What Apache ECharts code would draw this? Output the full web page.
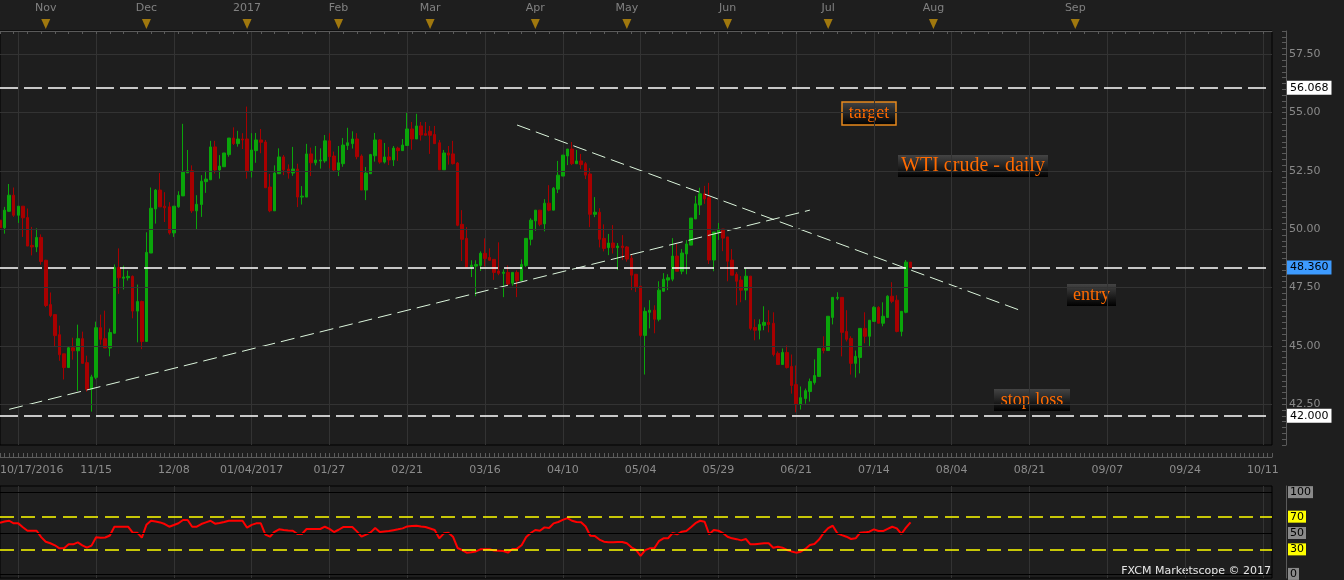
<!DOCTYPE html>
<html><head><meta charset="utf-8">
<script src="https://cdn.jsdelivr.net/npm/echarts@6/dist/echarts.min.js"></script>
<style>html,body{margin:0;padding:0;background:#1e1e1e;}#c{width:1344px;height:580px;}</style>
</head><body><div id="c"></div><script>
// ---- categories / ticks ----
const firstBar = '2016-10-17', lastBar = '2017-07-26', axisEnd = '2017-10-13';
const holidays = ['2016-12-26', '2017-01-02', '2017-04-14'];
const tickLabels = ['11/15','12/08','01/04/2017','01/27','02/21','03/16','04/10','05/04','05/29','06/21','07/14','08/04','08/21','09/07','09/24','10/11'];
const firstLabel = '10/17/2016';
const monthNames = ['Nov','Dec','2017','Feb','Mar','Apr','May','Jun','Jul','Aug','Sep'];
const monthMarkDates = ['2016-10-31','2016-11-30','2017-01-03','2017-01-31','2017-02-28','2017-03-31','2017-05-01','2017-05-31','2017-06-30','2017-07-31','2017-08-31'];
const priceTicks = [42.5, 45, 47.5, 50, 52.5, 55, 57.5];

// ---- series values (WTI daily OHLC) ----
const open = [
50.39,50.06,50.77,51.46,50.60,50.99,50.50,49.31,49.24,49.65,
48.67,46.77,46.34,45.48,44.66,44.07,44.92,44.79,45.31,44.28,
43.14,43.65,45.78,45.31,44.91,45.54,48.36,47.90,47.92,47.98,
46.49,46.90,45.19,48.98,50.87,51.68,50.99,50.96,49.84,50.96,
51.43,52.42,52.51,50.79,51.06,52.04,52.12,53.53,52.54,52.68,
53.20,53.91,53.67,53.87,53.87,52.51,53.37,53.83,53.74,51.81,
50.79,52.38,53.10,52.58,52.41,52.58,51.38,51.38,53.23,52.85,
52.93,52.93,53.79,53.14,52.54,52.81,53.59,53.67,53.87,53.14,
51.68,52.38,53.15,53.83,52.88,53.10,52.97,53.48,53.37,53.59,
54.30,53.87,54.43,54.10,54.20,54.06,53.71,52.55,53.27,53.23,
52.84,50.21,49.61,48.38,48.42,48.45,48.97,48.79,48.71,48.21,
48.11,48.15,47.69,48.15,47.80,48.45,49.57,50.36,50.82,50.23,
51.12,50.82,51.72,52.28,53.14,53.44,52.81,52.93,52.81,52.37,
50.64,50.73,49.61,49.21,49.41,49.21,49.28,49.24,48.76,48.07,
47.56,45.45,46.44,46.53,46.14,47.34,47.82,47.86,48.85,48.20,
48.94,49.32,50.44,51.04,51.52,51.35,48.68,49.87,50.01,49.67,
48.68,48.07,47.82,47.39,47.99,45.79,45.67,45.88,46.01,45.97,
44.68,44.20,44.72,44.12,43.34,42.48,42.74,43.04,43.43,43.69,
44.89,44.80,46.22,47.04,47.08,45.62,45.32,44.25,44.50,45.75,
45.41,46.05,46.65,45.97,46.22,47.13,46.96,45.62,46.44,48.59];
const close = [
50.06,50.82,51.46,50.60,50.99,50.49,49.28,49.24,49.65,48.62,
46.73,46.30,45.44,44.62,44.07,44.92,44.79,45.31,44.25,43.14,
43.67,45.78,45.28,44.91,45.57,48.36,47.92,47.95,47.98,46.49,
46.90,45.19,49.01,50.90,51.68,50.96,50.92,49.84,50.99,51.46,
52.45,52.51,50.79,51.07,52.06,52.15,53.53,52.54,52.71,53.27,
53.91,53.67,53.87,53.83,52.51,53.40,53.83,53.73,51.78,50.79,
52.41,53.10,52.55,52.41,52.58,51.38,51.42,53.23,52.85,52.97,
52.97,53.79,53.11,52.54,52.85,53.61,53.71,53.87,53.11,51.68,
52.41,53.20,53.83,52.88,53.10,52.97,53.48,53.37,53.61,54.30,
53.87,54.43,54.04,54.03,54.03,53.67,52.55,53.27,53.18,52.81,
50.17,49.57,48.38,48.46,48.49,48.97,48.75,48.67,48.15,48.11,
48.16,47.65,48.15,47.79,48.49,49.61,50.39,50.82,50.21,51.12,
50.82,51.76,52.32,53.18,53.44,52.81,52.93,52.77,52.32,50.64,
50.73,49.57,49.18,49.41,49.21,49.28,49.21,48.72,48.03,47.53,
45.45,46.48,46.53,46.14,47.39,47.86,47.92,48.85,48.20,48.98,
49.37,50.48,51.09,51.52,51.30,48.68,49.88,50.01,49.62,48.63,
48.03,47.77,47.39,47.99,45.75,45.67,45.92,46.01,45.92,44.63,
44.20,44.72,44.07,43.30,42.48,42.78,43.08,43.47,43.73,44.89,
44.80,46.27,47.08,47.08,45.58,45.28,44.25,44.55,45.75,45.41,
46.10,46.65,45.97,46.27,47.13,46.91,45.62,46.48,48.59,48.36];
const high = [
50.53,50.96,51.94,51.79,50.99,50.99,50.89,50.10,50.04,49.78,
48.69,47.29,46.34,45.87,44.66,44.96,45.35,45.91,45.61,44.58,
43.76,46.04,46.34,46.51,45.74,48.49,49.18,48.44,48.23,48.02,
47.63,46.94,49.87,51.79,51.72,52.41,51.59,51.16,50.99,51.63,
54.52,53.40,52.74,51.46,52.32,52.51,53.79,53.79,53.18,53.27,
53.91,54.37,54.22,54.12,55.26,54.12,54.13,54.30,53.83,52.37,
52.74,53.47,53.18,52.78,53.53,52.81,51.85,53.66,53.50,53.57,
53.47,54.04,54.12,53.33,53.57,53.91,54.35,54.20,54.12,53.21,
52.67,53.23,54.13,53.86,53.70,53.53,53.57,53.54,53.87,55.03,
54.60,54.95,54.60,54.60,54.43,54.43,53.83,53.40,53.57,53.79,
52.88,50.82,50.09,48.67,48.67,49.05,49.61,49.18,48.71,49.44,
48.28,48.45,48.15,48.24,48.71,49.61,50.47,50.82,50.82,51.29,
51.89,51.81,52.93,53.18,53.44,53.74,53.40,53.23,52.88,52.62,
51.38,50.90,50.21,49.80,50.18,49.41,49.75,49.28,48.89,48.07,
47.56,46.65,46.96,46.74,47.77,48.12,48.07,49.62,49.37,49.15,
49.54,50.48,51.43,51.78,51.86,51.99,49.88,50.27,50.01,49.67,
49.15,48.16,47.99,48.33,47.99,46.14,46.14,46.70,46.53,46.44,
44.76,44.89,45.02,44.63,44.16,43.26,43.17,43.60,44.42,44.89,
45.41,46.27,47.08,47.30,47.08,46.53,45.41,44.80,45.75,46.44,
46.10,46.70,46.70,46.87,47.17,47.73,47.17,46.48,48.68,48.59];
const low = [
49.88,49.81,50.75,50.53,50.27,49.67,49.28,48.88,49.02,48.48,
46.66,46.23,44.98,44.36,43.56,44.07,44.41,43.07,44.25,43.04,
42.18,43.57,45.05,44.91,44.55,45.54,47.23,47.42,47.80,46.18,
45.15,44.86,45.19,48.98,50.24,50.96,50.31,49.77,49.67,50.92,
51.43,52.42,50.70,50.01,50.53,51.56,52.12,52.39,52.17,52.68,
53.11,53.61,53.54,53.44,52.17,52.22,52.85,53.26,51.78,50.73,
50.79,52.38,52.32,52.17,52.29,50.95,51.06,51.38,52.28,52.74,
52.60,52.85,52.61,52.47,52.28,52.68,53.40,53.46,53.00,51.68,
51.25,52.37,52.90,52.81,52.82,52.75,52.71,52.93,53.37,53.59,
53.41,53.87,53.80,54.02,53.23,53.67,52.55,52.55,52.77,52.78,
50.13,48.64,48.38,47.95,47.13,48.21,48.41,48.64,47.83,48.03,
47.09,47.58,47.58,47.09,47.80,48.38,49.31,49.93,50.13,49.91,
50.77,50.82,51.55,52.28,52.75,52.75,52.81,52.58,52.15,50.09,
50.52,49.22,49.05,48.89,48.96,48.25,48.68,48.61,47.39,47.31,
45.38,43.77,45.75,45.54,46.05,47.34,47.39,47.77,48.20,48.07,
48.07,49.32,50.44,50.61,51.09,48.51,48.20,49.54,49.06,47.77,
48.03,46.74,46.87,46.96,45.67,45.24,45.28,45.67,45.58,44.55,
44.20,44.20,44.03,42.95,42.15,42.27,42.52,42.61,43.34,43.69,
44.68,44.80,45.92,46.96,44.55,45.19,43.77,43.64,43.82,45.11,
44.98,46.05,45.97,45.84,46.22,46.83,45.58,45.41,46.40,48.36];
const rsi = [
62.6,64,65,61.8,61.8,57,52.8,52.8,52.8,45,
39.4,37.5,35,31.3,31.3,36.2,36.2,38.6,35,32.1,
34.6,44.7,44.3,44.5,47,57.7,57.7,57.7,57.7,50.4,
50.4,44.3,60,65,64,63,61,57.7,59.8,62,
65.9,65.9,57.7,57.7,61,63,65,61.4,62.2,63.5,
65,65,65,65,56.5,60,61.8,61.8,48,45.5,
51.5,54.5,53.7,53.2,52.8,48.8,48.8,54.9,54.9,54.9,
54.9,57.7,55,51.2,54,57.3,57.3,57.3,52,45.5,
48,50.8,56.1,51.2,52,52.4,53.5,54.5,55.7,58.1,
58.5,58.9,58,57.3,55.5,53.7,43.5,49.6,50.4,45.5,
31.7,29,26,26.5,27.5,30.1,30.1,30.1,28.5,28.3,
28,26,30.5,30.9,35,45,50,53.7,52.8,56.9,
56.1,61.8,63.5,66,68.3,65,63.4,63.2,58,46.7,
46.3,42,39.4,38.6,38.8,39,39,37.4,32.5,29.3,
22,29,31.3,31.3,40,43.5,43.5,50,48.4,51.6,
52.4,57,62,65,63.8,48.4,53.7,52.8,50,45.5,
43.5,42.5,41,42.7,36.2,36.2,37,37.4,37.4,32,
33.3,32.1,29.3,27.5,26,27.2,30.5,35.4,36.5,42,
50,56,58.9,49.6,47.5,45.5,42.7,43.5,50.4,50.8,
51.6,54.5,52.4,52.4,55,57.7,55.7,48.8,56.5,63];
// ---- analyst levels & trend lines ----
const levels = [56.068, 48.36, 42.0];
const supportLine = [['2016-10-19', 42.28], ['2017-06-26', 50.82]];
const resistanceLine = [['2017-03-27', 54.47], ['2017-08-19', 46.52]];
const rsiLevels = [100, 70, 50, 30, 0];

// ---- build categories ----
function buildDates() {
  const out = [];
  let t = Date.parse(firstBar + 'T00:00:00Z');
  const tl = Date.parse(lastBar + 'T00:00:00Z'), te = Date.parse(axisEnd + 'T00:00:00Z');
  while (t <= te) {
    const d = new Date(t), iso = d.toISOString().slice(0, 10), dow = d.getUTCDay();
    if (t > tl || (dow !== 0 && dow !== 6 && holidays.indexOf(iso) < 0)) out.push(iso);
    t += 86400000;
  }
  return out;
}
const dates = buildDates();
const mmdd = iso => iso.slice(5, 7) + '/' + iso.slice(8, 10);
const labelOf = {};
const tickIdx = [];
dates.forEach((iso, i) => {
  const lab = tickLabels.find(t => t.slice(0, 5) === mmdd(iso));
  if (lab) { labelOf[iso] = lab; tickIdx.push(i); }
});
const step = tickIdx[1] - tickIdx[0];
const gridSet = new Set(tickIdx.concat([tickIdx[0] - step]));
const isGrid = i => gridSet.has(i);

const candles = open.map((o, i) => [o, close[i], low[i], high[i]]);
const rsiData = rsi.map((v, i) => [dates[i], v]);
const monthData = monthMarkDates.map((d, i) => ({ value: [d, 0.54], name: monthNames[i] }));

const font = 'DejaVu Sans';
const grad = () => new echarts.graphic.LinearGradient(0, 0, 0, 1, [{ offset: 0, color: '#444444' }, { offset: 1, color: '#000000' }]);
function note(x, y, w, h, text, size, border) {
  return { type: 'group', x: x, y: y, children: [
    { type: 'rect', shape: { x: 0, y: 0, width: w, height: h }, style: { fill: grad(), stroke: border ? '#e8891c' : null, lineWidth: border ? 1.5 : 0 } },
    { type: 'text', x: w / 2, y: h / 2, style: { text: text, align: 'center', verticalAlign: 'middle', fill: '#ff6a00', font: size + 'px "Liberation Serif", "DejaVu Serif", serif' } }
  ] };
}

const chart = echarts.init(document.getElementById('c'), null, { renderer: 'canvas' });
const W = 1272;
chart.setOption({
  animation: false,
  backgroundColor: '#1e1e1e',
  textStyle: { fontFamily: font },
  grid: [
    { left: 0, width: W, top: 31, height: 414, show: true, borderColor: '#000', borderWidth: 1, backgroundColor: 'transparent' },
    { left: 0, width: W, top: 486, height: 92, show: true, borderColor: '#000', borderWidth: 1, backgroundColor: 'transparent' },
    { left: 0, width: W, top: 18, height: 13, show: false }
  ],
  xAxis: [
    { type: 'category', gridIndex: 0, data: dates, boundaryGap: false, offset: 12,
      axisLine: { show: true, lineStyle: { color: '#5a5a5a' } },
      axisTick: { show: true, inside: true, length: 4, interval: 0, lineStyle: { color: '#5a5a5a' } },
      axisLabel: { show: true, color: '#8c8c8c', fontSize: 11, fontFamily: font, margin: 8,
        interval: (i, v) => !!labelOf[v], formatter: v => labelOf[v] || '' },
      splitLine: { show: true, interval: i => isGrid(i), lineStyle: { color: '#333333', width: 1 } } },
    { type: 'category', gridIndex: 1, data: dates, boundaryGap: false,
      axisLine: { show: false }, axisTick: { show: false }, axisLabel: { show: false },
      splitLine: { show: true, interval: i => isGrid(i), lineStyle: { color: '#333333', width: 1 } } },
    { type: 'category', gridIndex: 2, data: dates, boundaryGap: false, position: 'top',
      axisLine: { show: true, lineStyle: { color: '#5a5a5a' } },
      axisTick: { show: true, inside: true, length: 3, interval: 2, lineStyle: { color: '#5a5a5a' } },
      axisLabel: { show: false }, splitLine: { show: false } }
  ],
  yAxis: [
    { type: 'value', gridIndex: 0, position: 'right', offset: 14, min: 40.75, max: 58.5, interval: 0.25,
      axisLine: { show: true, lineStyle: { color: '#5a5a5a' } },
      axisTick: { show: true, inside: true, length: 4, lineStyle: { color: '#5a5a5a' } },
      axisLabel: { color: '#8a8a8a', fontSize: 11, fontFamily: font, margin: 3,
        formatter: v => priceTicks.some(p => Math.abs(p - v) < 1e-6) ? v.toFixed(2) : '' },
      splitLine: { show: false } },
    { type: 'value', gridIndex: 1, position: 'right', offset: 14, min: -5, max: 107.5,
      axisLine: { show: true, lineStyle: { color: '#5a5a5a' } }, axisTick: { show: false },
      axisLabel: { show: false }, splitLine: { show: false } },
    { type: 'value', gridIndex: 2, min: 0, max: 1, show: false }
  ],
  series: [
    { type: 'line', xAxisIndex: 0, yAxisIndex: 0, data: [], z: 0, silent: true,
      markLine: { silent: true, symbol: 'none', label: { show: false },
        lineStyle: { color: '#333333', type: 'solid', width: 1 },
        data: priceTicks.map(p => ({ yAxis: p })) } },
    { type: 'candlestick', xAxisIndex: 0, yAxisIndex: 0, data: candles, barWidth: 3, z: 3,
      itemStyle: { color: '#0aa50a', color0: '#a80000', borderColor: '#0aa50a', borderColor0: '#a80000', borderWidth: 1 },
      markLine: { silent: true, symbol: 'none', animation: false, precision: 3,
        lineStyle: { color: '#ffffff', type: [18, 6], width: 1.5 },
        label: { show: true, position: 'end', distance: 15, color: '#000', fontSize: 11, fontFamily: font,
          padding: [2, 3, 1, 3] },
        data: levels.map((v, i) => ({ yAxis: v,
          label: { backgroundColor: i === 1 ? '#3d9bff' : '#ffffff', formatter: () => v.toFixed(3) } })) } },
    { type: 'line', xAxisIndex: 0, yAxisIndex: 0, data: supportLine, symbol: 'none', z: 4,
      lineStyle: { color: '#dcf5dc', width: 1, type: [14, 6] } },
    { type: 'line', xAxisIndex: 0, yAxisIndex: 0, data: resistanceLine, symbol: 'none', z: 4,
      lineStyle: { color: '#dcf5dc', width: 1, type: [14, 6] } },
    { type: 'line', xAxisIndex: 1, yAxisIndex: 1, data: rsiData, symbol: 'none', z: 4,
      lineStyle: { color: '#ff0000', width: 2 },
      markLine: { silent: true, symbol: 'none',
        label: { show: true, position: 'end', distance: 16, color: '#000', fontSize: 11, fontFamily: font, padding: [1, 2, 0, 2] },
        data: rsiLevels.map(v => {
          const mid = v === 70 || v === 30;
          return { yAxis: v,
            lineStyle: mid ? { color: '#ffff00', type: [14, 7], width: 1.5 } : { color: '#000000', type: 'solid', width: 1 },
            label: { backgroundColor: mid ? '#ffff00' : '#8a8a8a', formatter: () => String(v) } };
        }) } },
    { type: 'scatter', xAxisIndex: 2, yAxisIndex: 2, data: monthData, symbol: 'triangle', symbolRotate: 180,
      symbolSize: [9, 10], itemStyle: { color: '#c08f0a' }, silent: true,
      label: { show: true, position: 'top', distance: 5, color: '#9a9a9a', fontSize: 11, fontFamily: font, formatter: p => p.name } }
  ],
  graphic: [
    { type: 'text', left: 0, top: 465, style: { text: firstLabel, fill: '#8c8c8c', font: '11px "DejaVu Sans"' } },
    { type: 'text', right: 1344 - 1271, top: 566, style: { text: 'FXCM Marketscope © 2017', fill: '#e6e6e6', font: '11px "DejaVu Sans"' } },
    note(842, 102, 54, 23, 'target', 18, true),
    note(898, 155, 150, 22, 'WTI crude - daily', 20, false),
    note(1067, 284, 49, 22, 'entry', 18, false),
    note(994, 389, 76, 22, 'stop loss', 18, false)
  ]
});
</script></body></html>
